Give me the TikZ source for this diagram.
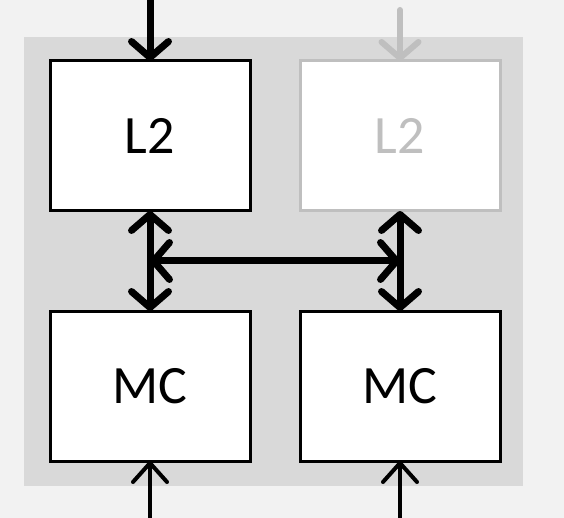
\documentclass[tikz,border=0pt]{standalone}
\usepackage{fontspec}
\setmainfont{Carlito}
\usetikzlibrary{arrows.meta,calc}
\definecolor{bgc}{HTML}{F2F2F2}
\definecolor{panelc}{HTML}{D9D9D9}
\definecolor{fadec}{HTML}{BFBFBF}
\tikzset{
  blockbox/.style={draw=black, fill=white, line width=3pt, minimum width=200pt, minimum height=150pt, inner sep=0pt, outer sep=0pt, font=\fontsize{54}{60}\selectfont},
  fadebox/.style={blockbox, draw=fadec, text=fadec},
  thicktip/.tip={Straight Barb[length=16pt, width=37pt, round]},
  thintip/.tip={Straight Barb[length=19pt, width=34pt, round]},
  thickarrow/.style={line width=7pt, -{thicktip}},
  bothway/.style={line width=7pt, {thicktip}-{thicktip}},
  thinarrow/.style={line width=4pt, -{thintip}},
}
\begin{document}
\begin{tikzpicture}[x=1pt, y=-1pt]
  \useasboundingbox (0,0) rectangle (564,518);
  \fill[bgc] (0,0) rectangle (564,518);
  \fill[panelc] (24,37) rectangle (523,486);

  \node[blockbox] (L2a) at (150,136) {L2};
  \node[fadebox]  (L2b) at (400,136) {L2};
  \node[blockbox] (MCa) at (150,386) {MC};
  \node[blockbox] (MCb) at (400,386) {MC};

  \coordinate (topa) at (150,0);
  \coordinate (topb) at (400,10);
  \coordinate (bota) at (150,518);
  \coordinate (botb) at (400,518);
  \coordinate (mida) at ($(L2a.south)!0.5!(MCa.north)$);
  \coordinate (midb) at ($(L2b.south)!0.5!(MCb.north)$);

  \draw[thickarrow] (topa) -- (L2a.north);
  \draw[thickarrow, draw=fadec, line width=6pt, line cap=round] (topb) -- (L2b.north);
  \draw[bothway] (L2a.south) -- (MCa.north);
  \draw[bothway] (L2b.south) -- (MCb.north);
  \draw[bothway] (mida) -- (midb);
  \draw[thinarrow] (bota) -- (MCa.south);
  \draw[thinarrow] (botb) -- (MCb.south);
\end{tikzpicture}
\end{document}
